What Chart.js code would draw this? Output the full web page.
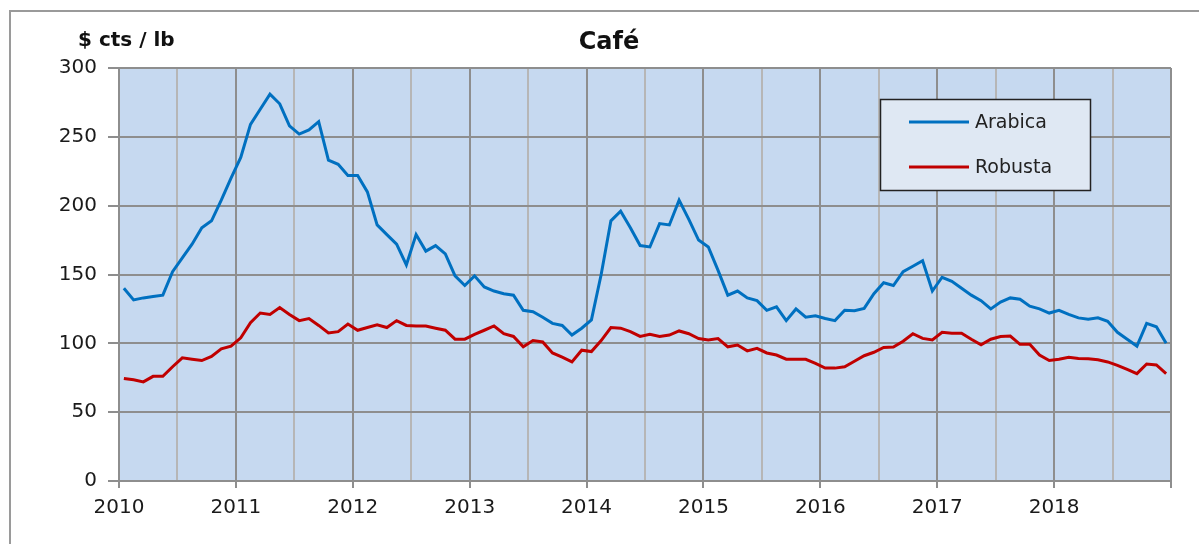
<!DOCTYPE html>
<html>
<head>
<meta charset="utf-8">
<title>Café</title>
<script src="https://cdn.jsdelivr.net/npm/chart.js@4"></script>
<style>
  html, body { margin:0; padding:0; background:#fff; }
  #wrap { width:1199px; height:544px; position:relative; }
</style>
</head>
<body>
<div id="wrap"><canvas id="cafeChart" width="1199" height="544"></canvas></div>
<script>
// Datos mensuales ene-2010 .. dic-2018 (cts $/lb)
const yearLabels = ['2010','2011','2012','2013','2014','2015','2016','2017','2018'];
const seriesNames = ['Arabica','Robusta'];
const arabica = [
  140,131.5,133,134,135,152,162,172,184,189,204,220,
  235,259,270,281,274,258,252,255,261,233,230,222,
  222,210,186,179,172,157,179,167,171,165,149,142,
  149,141,138,136,135,124,123,119,114.5,113,106,111,
  117,150,189,196,184,171,170,187,186,204,190,175,
  170,153,135,138,133,131,124,126.5,116.5,125,119,120,
  118,116.5,124,123.7,125.4,136,144,142,152,156,160,138,
  148,145,140,135,131,125,130,133,132,127,125,122,
  124,121,118.5,117.5,118.5,116,108,103,98,114.5,112,100
];
const robusta = [
  74.5,73.5,72,76,76,83,89.5,88.5,87.5,90.5,96,98,
  104,115,122,121,126,121,116.5,118,113,107.5,108.5,114,
  109.5,111.5,113.5,111.5,116.5,113,112.6,112.6,111,109.5,103,103,
  106.5,109.5,112.6,107,105,97.5,102,101,93,90,86.5,95,
  94,102,111.5,111,108.5,105,106.5,105,106,109,107,103.5,
  102.5,103.5,97.5,98.8,94.5,96.4,93,91.5,88.5,88.5,88.4,85.5,
  82,82,83,87,91,93.5,97,97.3,101.5,107,103.6,102.4,
  108,107.3,107.3,103,99,103,105,105.3,99.3,99.3,91.5,87.5,
  88.5,89.8,89,88.8,88,86.5,84,81,78,85,84.3,78
];

const FONT = "'DejaVu Sans', Verdana, sans-serif";
const MAJOR = '#8e8e8e', MINOR = '#b6b6b6';

// meses en el eje lineal, centrados en su intervalo
const toPoints = arr => arr.map((v,i)=>({x:i+0.5, y:v}));

// fondo, marco, títulos y leyenda
const decor = {
  id:'decor',
  beforeDraw(chart){
    const {ctx, chartArea:a} = chart;
    ctx.save();
    ctx.fillStyle = '#fff';
    ctx.fillRect(0,0,chart.width,chart.height);
    ctx.fillStyle = '#c6d9f0';
    ctx.fillRect(a.left, a.top, a.right-a.left, a.bottom-a.top);
    ctx.strokeStyle = '#9a9a9a';
    ctx.lineWidth = 2;
    ctx.beginPath();
    ctx.moveTo(10, chart.height); ctx.lineTo(10, 11); ctx.lineTo(chart.width, 11);
    ctx.stroke();
    ctx.fillStyle = '#111';
    ctx.textBaseline = 'middle';
    ctx.font = 'bold 24px ' + FONT;
    ctx.textAlign = 'center';
    ctx.fillText('Café', 609, 43);
    ctx.font = 'bold 20px ' + FONT;
    ctx.textAlign = 'left';
    ctx.fillText('$ cts / lb', 78, 41);
    ctx.restore();
  },
  afterDatasetsDraw(chart){
    const ctx = chart.ctx;
    ctx.save();
    ctx.fillStyle = '#dfe8f3';
    ctx.fillRect(880, 99, 210, 91);
    ctx.strokeStyle = '#222';
    ctx.lineWidth = 1.5;
    ctx.strokeRect(880.5, 99.5, 210, 91);
    ctx.font = '19px ' + FONT;
    ctx.textBaseline = 'middle';
    ctx.textAlign = 'left';
    chart.data.datasets.forEach((ds,i)=>{
      const y = 122 + i*45;
      ctx.strokeStyle = ds.borderColor;
      ctx.lineWidth = 3;
      ctx.beginPath(); ctx.moveTo(909, y); ctx.lineTo(969, y); ctx.stroke();
      ctx.fillStyle = '#222';
      ctx.fillText(ds.label, 975, y+1);
    });
    ctx.restore();
  }
};

new Chart(document.getElementById('cafeChart'), {
  type:'line',
  data:{
    datasets:[
      { label:seriesNames[0], data:toPoints(arabica), borderColor:'#0070c0', borderWidth:3, pointRadius:0, tension:0 },
      { label:seriesNames[1], data:toPoints(robusta), borderColor:'#c00000', borderWidth:3, pointRadius:0, tension:0 }
    ]
  },
  options:{
    responsive:false,
    animation:false,
    layout:{ padding:{ left:0, top:68, right:28, bottom:0 } },
    plugins:{ legend:{ display:false }, title:{ display:false }, tooltip:{ enabled:false } },
    scales:{
      x:{
        type:'linear', min:0, max:108,
        afterFit(s){ s.height = 63; },
        ticks:{
          stepSize:6, autoSkip:false, maxRotation:0, padding:8,
          color:'#1a1a1a', font:{ family:FONT, size:20 },
          callback:v => (v % 12 === 0 && v < 108) ? yearLabels[v/12] : ''
        },
        grid:{
          lineWidth:2, tickLength:7,
          color:c => (c.tick && c.tick.value % 12 === 0) ? MAJOR : MINOR,
          tickColor:c => (c.tick && c.tick.value % 12 === 0) ? MAJOR : 'transparent'
        },
        border:{ color:MAJOR, width:2 }
      },
      y:{
        min:0, max:300,
        afterFit(s){ s.width = 119; },
        ticks:{ stepSize:50, padding:11, color:'#1a1a1a', font:{ family:FONT, size:20 } },
        grid:{ color:MAJOR, lineWidth:2, tickLength:11 },
        border:{ color:MAJOR, width:2 }
      }
    }
  },
  plugins:[decor]
});
</script>
</body>
</html>
